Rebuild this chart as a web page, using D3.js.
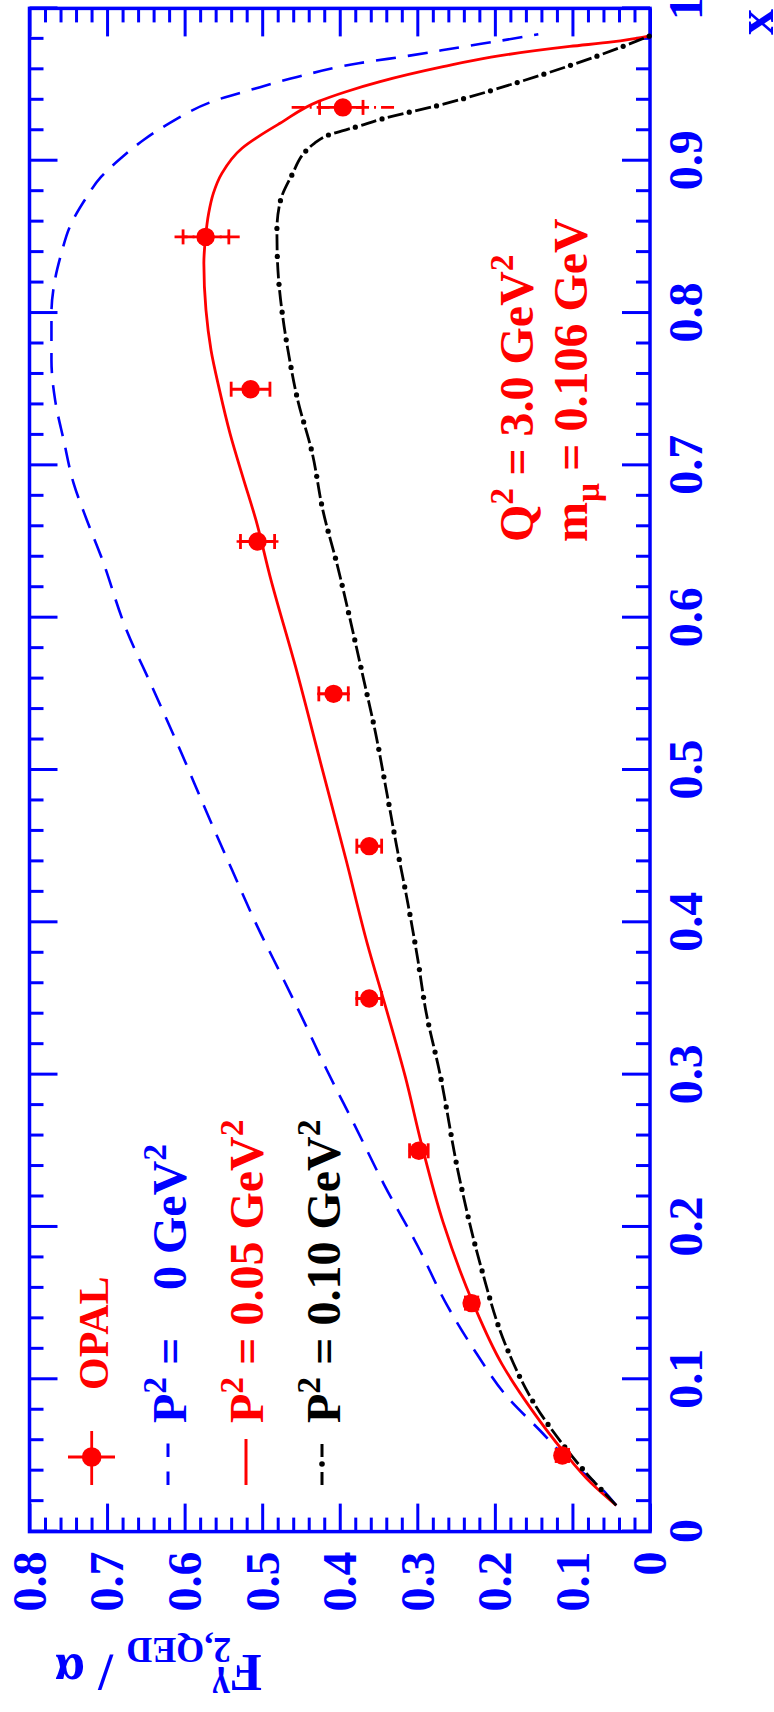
<!DOCTYPE html>
<html>
<head>
<meta charset="utf-8">
<script src="https://cdn.jsdelivr.net/npm/d3@7"></script>
<style>
  body { margin: 0; background: #fff; }
  svg { display: block; }
  text { font-family: "Liberation Serif", "Times New Roman", serif; font-weight: bold; white-space: pre; }
</style>
</head>
<body>
<svg id="chart" width="774" height="1712"></svg>
<script>
// F2,QED / alpha for Q^2 = 3.0 GeV^2, muon pairs
// Curve P^2 = 0 GeV^2
const p0X = [0.0172, 0.0297, 0.0457, 0.0662, 0.089, 0.1164, 0.148, 0.187, 0.228, 0.267, 0.3034, 0.3358, 0.362, 0.397, 0.4343, 0.4716, 0.511, 0.5547, 0.5919, 0.640, 0.664, 0.688, 0.7167, 0.743, 0.769, 0.800, 0.8195, 0.839, 0.8567, 0.874, 0.8895, 0.9026, 0.9136, 0.9245, 0.9405, 0.9465, 0.955, 0.964, 0.969, 0.975, 0.979, 0.983];
const p0Y = [0.0435, 0.0653, 0.103, 0.1415, 0.185, 0.223, 0.261, 0.299, 0.343, 0.381, 0.417, 0.447, 0.472, 0.506, 0.5388, 0.571, 0.604, 0.642, 0.675, 0.7075, 0.726, 0.743, 0.756, 0.767, 0.7717, 0.7717, 0.768, 0.759, 0.748, 0.729, 0.7075, 0.680, 0.653, 0.620, 0.555, 0.515, 0.455, 0.3755, 0.310, 0.239, 0.190, 0.144];

// Curve P^2 = 0.05 GeV^2
const p05X = [0.0172, 0.032, 0.0526, 0.0799, 0.1096, 0.1506, 0.203, 0.2532, 0.2988, 0.343, 0.3862, 0.4409, 0.5044, 0.5678, 0.627, 0.664, 0.6925, 0.721, 0.7494, 0.7757, 0.802, 0.8327, 0.850, 0.8655, 0.8786, 0.8917, 0.9082, 0.9165, 0.9246, 0.9388, 0.9453, 0.9519, 0.9617, 0.968, 0.975, 0.978, 0.982];
const p05Y = [0.0435, 0.0762, 0.1116, 0.1524, 0.1905, 0.2286, 0.2667, 0.294, 0.3156, 0.340, 0.3646, 0.3918, 0.4245, 0.457, 0.4898, 0.508, 0.525, 0.5415, 0.555, 0.566, 0.5725, 0.5752, 0.573, 0.569, 0.563, 0.552, 0.526, 0.503, 0.477, 0.428, 0.392, 0.348, 0.2667, 0.205, 0.1034, 0.049, 0.0];

// Curve P^2 = 0.10 GeV^2
const p10X = [0.0172, 0.0275, 0.0412, 0.0549, 0.0822, 0.121, 0.1734, 0.2304, 0.3034, 0.3403, 0.3754, 0.4147, 0.4496, 0.4869, 0.524, 0.5613, 0.5974, 0.6335, 0.6706, 0.7079, 0.7433, 0.7713, 0.7976, 0.817, 0.837, 0.8545, 0.8731, 0.8906, 0.9066, 0.9114, 0.9169, 0.9223, 0.9278, 0.9366, 0.9519, 0.9694, 0.982];
const p10Y = [0.0435, 0.0626, 0.087, 0.1088, 0.147, 0.185, 0.2177, 0.245, 0.272, 0.2884, 0.2993, 0.313, 0.3265, 0.340, 0.3537, 0.370, 0.386, 0.4027, 0.4218, 0.4354, 0.4544, 0.4653, 0.4735, 0.478, 0.4805, 0.481, 0.4768, 0.4617, 0.4433, 0.4327, 0.4145, 0.378, 0.343, 0.2706, 0.1675, 0.0644, 0.0];

// OPAL measurements
const opalX  = [0.05, 0.15, 0.25, 0.35, 0.45, 0.55, 0.65, 0.75, 0.85, 0.935];
const opalY  = [0.113, 0.230, 0.298, 0.362, 0.362, 0.408, 0.506, 0.515, 0.573, 0.396];
const statLo = [0.008, 0.008, 0.012, 0.016, 0.016, 0.019, 0.022, 0.025, 0.030, 0.026];
const statHi = [0.008, 0.008, 0.012, 0.016, 0.016, 0.019, 0.022, 0.025, 0.029, 0.030];
const totLo  = [0.009, 0.009, 0.013, 0.018, 0.017, 0.021, 0.027, 0.025, 0.044, 0.066];
const totHi  = [0.009, 0.009, 0.013, 0.018, 0.017, 0.021, 0.027, 0.025, 0.040, 0.066];

// Axis ticks
const xMajor = d3.range(0, 11).map(i => i / 10);
const xMinor = d3.range(0, 51).filter(i => i % 5 !== 0).map(i => i * 0.02);
const yMajor = d3.range(0, 9).map(i => i / 10);
const yMinor = d3.range(0, 41).filter(i => i % 5 !== 0).map(i => i * 0.02);
const tickFmt = d => (d === 0 ? "0" : d === 1 ? "1" : d3.format(".1f")(d));

const BLUE = "#0000ff", RED = "#ff0000", BLACK = "#000000";

const svg = d3.select("#chart");
// The plot is laid out landscape and turned a quarter turn counter-clockwise.
const g = svg.append("g").attr("transform", "translate(0,1712) rotate(-90)");

const x = d3.scaleLinear().domain([0, 1]).range([180.4, 1703.6]);
const y = d3.scaleLinear().domain([0, 0.8]).range([650, 29.5]);

function styleAxis(sel) {
  sel.select(".domain").remove();
  sel.selectAll(".tick line").attr("stroke", BLUE).attr("stroke-width", 3);
  sel.selectAll(".tick text").attr("fill", BLUE).attr("font-size", 48)
     .attr("font-family", '"Liberation Serif", serif').attr("font-weight", "bold");
}

// bottom x axis with labels
const xb = g.append("g").attr("transform", `translate(0,${y(0)})`)
  .call(d3.axisBottom(x).tickValues(xMajor).tickSize(-28).tickFormat(tickFmt));
styleAxis(xb);
xb.selectAll(".tick text").attr("y", 52).attr("dy", 0);
g.append("g").attr("transform", `translate(0,${y(0)})`)
  .call(d3.axisBottom(x).tickValues(xMinor).tickSize(-14).tickFormat("")).call(styleAxis);
// top x axis
g.append("g").attr("transform", `translate(0,${y(0.8)})`)
  .call(d3.axisTop(x).tickValues(xMajor).tickSize(-28).tickFormat("")).call(styleAxis);
g.append("g").attr("transform", `translate(0,${y(0.8)})`)
  .call(d3.axisTop(x).tickValues(xMinor).tickSize(-14).tickFormat("")).call(styleAxis);
// left y axis with labels
const yl = g.append("g").attr("transform", `translate(${x(0)},0)`)
  .call(d3.axisLeft(y).tickValues(yMajor).tickSize(-28).tickFormat(tickFmt));
styleAxis(yl);
yl.selectAll(".tick text").attr("x", -20).attr("dy", "0.33em");
g.append("g").attr("transform", `translate(${x(0)},0)`)
  .call(d3.axisLeft(y).tickValues(yMinor).tickSize(-14).tickFormat("")).call(styleAxis);
// right y axis
g.append("g").attr("transform", `translate(${x(1)},0)`)
  .call(d3.axisRight(y).tickValues(yMajor).tickSize(-28).tickFormat("")).call(styleAxis);
g.append("g").attr("transform", `translate(${x(1)},0)`)
  .call(d3.axisRight(y).tickValues(yMinor).tickSize(-14).tickFormat("")).call(styleAxis);

// frame
g.append("rect")
  .attr("x", x(0)).attr("y", y(0.8))
  .attr("width", x(1) - x(0)).attr("height", y(0) - y(0.8))
  .attr("fill", "none").attr("stroke", BLUE).attr("stroke-width", 3.5);

// curves
const line = d3.line().x(d => x(d[0])).y(d => y(d[1])).curve(d3.curveMonotoneX);
const zipPts = (a, b) => a.map((v, i) => [v, b[i]]);

g.append("path").datum(zipPts(p0X, p0Y)).attr("d", line)
  .attr("fill", "none").attr("stroke", BLUE).attr("stroke-width", 2.6)
  .attr("stroke-dasharray", "20,12");

g.append("path").datum(zipPts(p05X, p05Y)).attr("d", line)
  .attr("fill", "none").attr("stroke", RED).attr("stroke-width", 2.8);

const blackPath = g.append("path").datum(zipPts(p10X, p10Y)).attr("d", line)
  .attr("fill", "none").attr("stroke", BLACK).attr("stroke-width", 2.8)
  .attr("stroke-dasharray", "16,12");
// dots of the dash-dot pattern
{
  const node = blackPath.node();
  const total = node.getTotalLength();
  for (let L = 22; L < total; L += 28) {
    const p = node.getPointAtLength(L);
    g.append("circle").attr("cx", p.x).attr("cy", p.y).attr("r", 2.6).attr("fill", BLACK);
  }
}

// OPAL data: total errors (dash-dot), statistical errors (solid, capped), markers
const opal = opalX.map((v, i) => ({ x: v, y: opalY[i], sl: statLo[i], sh: statHi[i], tl: totLo[i], th: totHi[i] }));
const pts = g.append("g");
opal.forEach(d => {
  const cx = x(d.x);
  [d.y - d.tl, d.y + d.th].forEach(end => {
    pts.append("line").attr("x1", cx).attr("x2", cx)
      .attr("y1", y(end)).attr("y2", y(d.y))
      .attr("stroke", RED).attr("stroke-width", 2.6)
      .attr("stroke-dasharray", "13,5,2,5");
  });
  pts.append("line").attr("x1", cx).attr("x2", cx)
    .attr("y1", y(d.y - d.sl)).attr("y2", y(d.y + d.sh))
    .attr("stroke", RED).attr("stroke-width", 2.8);
  [d.y - d.sl, d.y + d.sh].forEach(e => {
    pts.append("line").attr("x1", cx - 7.5).attr("x2", cx + 7.5)
      .attr("y1", y(e)).attr("y2", y(e))
      .attr("stroke", RED).attr("stroke-width", 2.8);
  });
  pts.append("circle").attr("cx", cx).attr("cy", y(d.y)).attr("r", 9.2).attr("fill", RED);
});

// text with super/subscripts
function richText(parent, px, py, parts, size, color, anchor) {
  const t = parent.append("text").attr("x", px).attr("y", py)
    .attr("font-size", size).attr("fill", color).attr("text-anchor", anchor || "start");
  let shift = 0;
  parts.forEach(p => {
    const target = p.sup ? -(p.shift || 0.42 * size) : p.sub ? (p.shift || 0.24 * size) : 0;
    const ts = t.append("tspan").attr("dy", target - shift).text(p.t);
    if (p.sup || p.sub) ts.attr("font-size", size * (p.scale || 0.7));
    if (p.dx) ts.attr("dx", p.dx);
    shift = target;
  });
  return t;
}

// legend
const lg = g.append("g");
lg.append("line").attr("x1", 227).attr("x2", 281).attr("y1", 91.7).attr("y2", 91.7)
  .attr("stroke", RED).attr("stroke-width", 2.8);
lg.append("line").attr("x1", 255).attr("x2", 255).attr("y1", 68).attr("y2", 115)
  .attr("stroke", RED).attr("stroke-width", 2.8);
lg.append("circle").attr("cx", 255).attr("cy", 91.7).attr("r", 9.8).attr("fill", RED);
richText(lg, 322, 108, [{ t: "OPAL" }], 42, RED);

lg.append("line").attr("x1", 227).attr("x2", 269).attr("y1", 168).attr("y2", 168)
  .attr("stroke", BLUE).attr("stroke-width", 3).attr("stroke-dasharray", "13.5,14.5");
richText(lg, 289, 186, [{ t: "P" }, { t: "2", sup: true }, { t: " =" }], 48, BLUE);
richText(lg, 422, 186, [{ t: "0 GeV" }, { t: "2", sup: true }], 48, BLUE);

lg.append("line").attr("x1", 227).attr("x2", 273).attr("y1", 246).attr("y2", 246)
  .attr("stroke", RED).attr("stroke-width", 3);
richText(lg, 289, 263, [{ t: "P" }, { t: "2", sup: true }, { t: " = 0.05 GeV" }, { t: "2", sup: true }], 48, RED);

lg.append("line").attr("x1", 227).attr("x2", 269).attr("y1", 322).attr("y2", 322)
  .attr("stroke", BLACK).attr("stroke-width", 3).attr("stroke-dasharray", "13,15");
lg.append("circle").attr("cx", 248).attr("cy", 322).attr("r", 2.8).attr("fill", BLACK);
richText(lg, 289, 340, [{ t: "P" }, { t: "2", sup: true }, { t: " = 0.10 GeV" }, { t: "2", sup: true }], 48, BLACK);

// kinematics note
richText(g, 1170, 533, [{ t: "Q" }, { t: "2", sup: true }, { t: " = 3.0 GeV" }, { t: "2", sup: true }], 48, RED);
richText(g, 1170, 587, [{ t: "m" }, { t: "\u03bc", sub: true }, { t: " = 0.106 GeV" }], 48, RED);

// axis titles
richText(g, 1703, 773, [{ t: "x" }], 52, BLUE, "end");
const yt = g.append("g").attr("transform", "translate(57,262) rotate(-90)");
richText(yt, 0, 0, [
  { t: "F" },
  { t: "\u03b3", sup: true, shift: 20, scale: 0.7 },
  { t: "2,QED", sub: true, shift: 17, scale: 0.68, dx: -19 },
  { t: " / \u03b1" }
], 53, BLUE, "start");
</script>
</body>
</html>
